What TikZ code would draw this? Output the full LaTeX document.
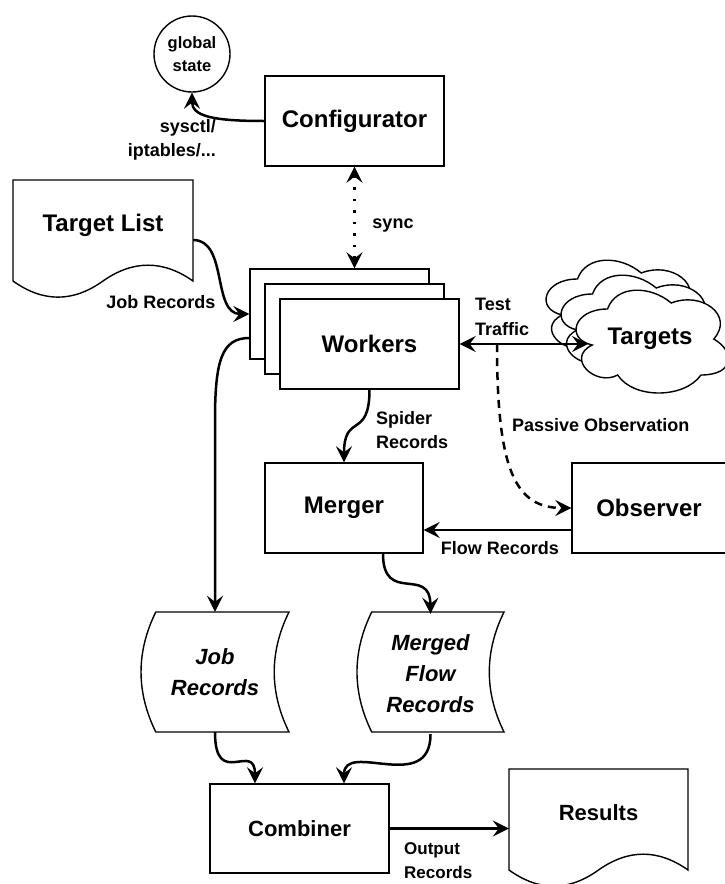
\documentclass[tikz,border=0pt]{standalone}
\usepackage{fontspec}
\setmainfont{Liberation Sans}
\usetikzlibrary{arrows.meta}
\newcommand{\drawcloudat}[2]{%
  \begin{scope}[shift={(#1,#2)}, x=170pt, y=-120pt]
    \path[shp] (0.25,0.25) .. controls (0.05,0.25) and (0,0.5) .. (0.16,0.55)
      .. controls (0,0.66) and (0.18,0.9) .. (0.31,0.8)
      .. controls (0.4,1) and (0.7,1) .. (0.8,0.8)
      .. controls (1,0.8) and (1,0.6) .. (0.875,0.5)
      .. controls (1,0.3) and (0.8,0.1) .. (0.625,0.2)
      .. controls (0.5,0.05) and (0.3,0.05) .. (0.25,0.25) -- cycle;
  \end{scope}}
\begin{document}
\begin{tikzpicture}[x=1pt,y=-1pt,
  shp/.style={draw=black, line width=1.4pt, fill=white},
  box/.style={shp, rectangle, inner sep=0pt},
  conn/.style={line width=2.5pt, -{Stealth[length=16pt,width=16pt,inset=6pt]}},
  dbl/.style={line width=2.5pt, {Stealth[length=16pt,width=16pt,inset=6pt]}-{Stealth[length=16pt,width=16pt,inset=6pt]}},
  big/.style={font=\fontsize{24}{28}\selectfont\bfseries},
  midf/.style={font=\fontsize{22}{28}\selectfont\bfseries},
  ital/.style={font=\fontsize{22}{31}\selectfont\bfseries\itshape, align=center, inner sep=0pt},
  lbl/.style={font=\fontsize{18}{24.5}\selectfont\bfseries, inner sep=0pt},
  ghost/.style={inner sep=0pt}
]
\useasboundingbox[fill=white] (0,0) rectangle (724,884);

% global state and configurator
\node[shp, circle, minimum size=76pt, inner sep=0pt, font=\fontsize{16.5}{23}\selectfont\bfseries, align=center] (gs) at (192,54) {global\\state};
\node[box, big, minimum width=179pt, minimum height=90pt] (conf) at (354.5,121) {Configurator};

% target list document
\path[shp] (13,180) -- (193,180) -- (193,281) .. controls (163,259.9) and (133,259.9) .. (103,281)
  .. controls (73,302.5) and (43,302.5) .. (13,281) -- cycle;
\node[ghost, big] (tl) at (103,225) {Target List};
\node[ghost, minimum width=180pt, minimum height=101pt] (tlbox) at (103,230.5) {};

% workers stack
\node[box, minimum width=179pt, minimum height=90pt] (wkb) at (339.5,314) {};
\node[box, minimum width=179pt, minimum height=90pt] (wkm) at (354.5,329) {};
\node[box, big, minimum width=179pt, minimum height=90pt] (wk) at (369.5,344) {Workers};

% clouds
\drawcloudat{535}{249}
\drawcloudat{550}{264}
\drawcloudat{565}{279}
\node[ghost, big] (targets) at (650,339) {Targets};
\coordinate (tgtin) at (588,344);

% merger / observer
\node[box, big, minimum width=158pt, minimum height=90pt] (merger) at (344,508) {Merger};
\node[box, big, minimum width=154pt, minimum height=90pt] (observer) at (649,508) {Observer};

% data storage shapes
\path[shp] (155.8,612) -- (289,612) .. controls (269.3,652) and (269.3,692) .. (289,732)
  -- (155.8,732) .. controls (136.1,692) and (136.1,652) .. (155.8,612) -- cycle;
\node[ital, minimum width=148pt, minimum height=120pt] (jobrec) at (215,672) {Job\\Records};
\path[shp] (371.7,612) -- (504,612) .. controls (484.4,652) and (484.4,692) .. (504,732)
  -- (371.7,732) .. controls (352.1,692) and (352.1,652) .. (371.7,612) -- cycle;
\node[ital, minimum width=147pt, minimum height=120pt] (merged) at (430.5,674) {Merged\\Flow\\Records};

% combiner / results
\node[box, midf, minimum width=179pt, minimum height=89pt] (comb) at (299.5,828.5) {Combiner};
\path[shp] (509,769) -- (688,769) -- (688,870) .. controls (658.2,848.9) and (628.3,848.9) .. (598.5,870)
  .. controls (568.7,891.5) and (538.8,891.5) .. (509,870) -- cycle;
\node[ghost, midf] (results) at (598.5,813) {Results};
\node[ghost, minimum width=179pt, minimum height=101pt] (resbox) at (598.5,819.5) {};

% connectors
\draw[conn] (conf.west) .. controls (212,121) and (192,116) .. (gs.south);
\node[lbl, anchor=east, align=right] (lsys) at (216,140) {sysctl/\\iptables/...};

\draw[dbl, dash pattern=on 2.5pt off 9pt] (conf.south) -- (conf.south |- wkb.north);
\node[lbl] (lsync) at (393,226) {sync};

\draw[conn] ([yshift=-9.5pt]tlbox.east) .. controls (228,240) and (212,314) .. (wkb.west);
\node[lbl] (ljob) at (161,302) {Job Records};

\draw[conn] ([yshift=-24pt]wkb.west) .. controls (222,338) and (215,360) .. (215,420) -- (jobrec.north);

\draw[dbl] (wk.east) -- (tgtin);
\node[lbl, anchor=west, align=left] (ltest) at (475,317) {Test\\Traffic};

\coordinate (tap) at (497,344);
\draw[conn, dash pattern=on 8pt off 6pt] (tap) .. controls (497,470) and (515,508) .. (observer.west);
\node[lbl, anchor=west] (lpass) at (512,425) {Passive Observation};

\draw[conn] (wk.south) .. controls (369.5,440) and (344,412) .. (merger.north);
\node[lbl, anchor=west, align=left] (lspider) at (376,430) {Spider\\Records};

\draw[conn] ([yshift=-22pt]observer.west) -- ([yshift=-22pt]merger.east);
\node[lbl] (lflow) at (500,548) {Flow Records};

\draw[conn] ([xshift=39pt]merger.south) .. controls (383,605) and (430,565) .. (merged.north);

\draw[conn] (jobrec.south) .. controls (215,790) and (255,740) .. ([xshift=-44.5pt]comb.north);
\draw[conn] (merged.south) .. controls (430.5,795) and (344,740) .. ([xshift=44.5pt]comb.north);

\draw[conn] (comb.east) -- (comb.east -| resbox.west);
\node[lbl, font=\fontsize{17}{24}\selectfont\bfseries, anchor=west, align=left] (lout) at (404,861) {Output\\Records};
\end{tikzpicture}
\end{document}
